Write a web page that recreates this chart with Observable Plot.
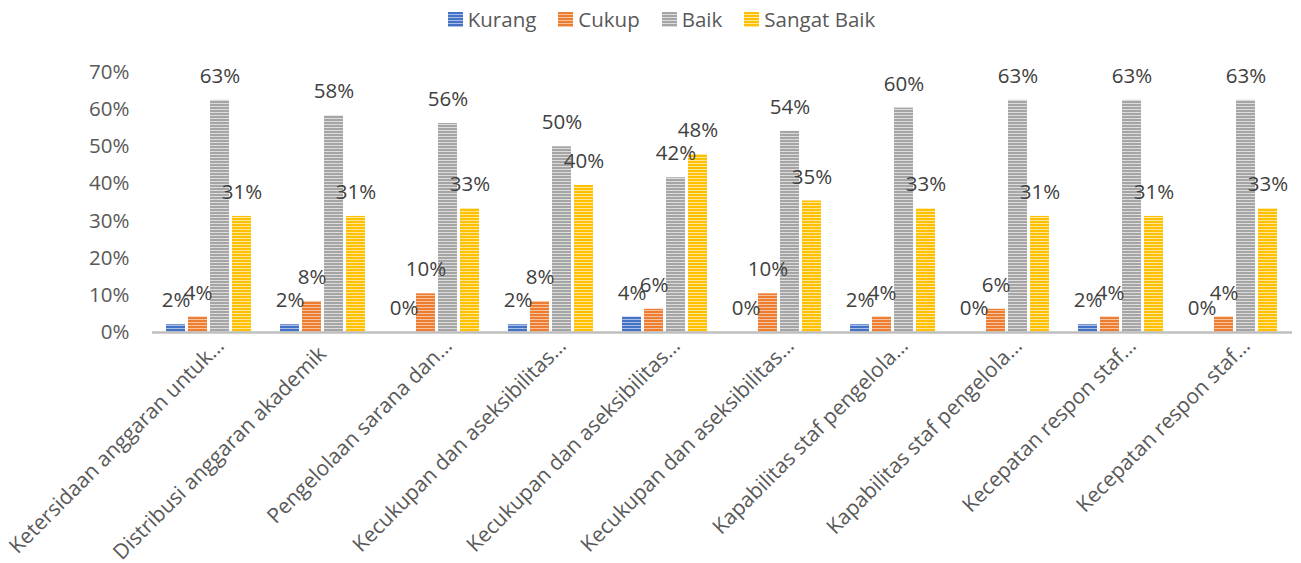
<!DOCTYPE html>
<html>
<head>
<meta charset="utf-8">
<script src="https://cdn.jsdelivr.net/npm/d3@7"></script>
<script src="https://cdn.jsdelivr.net/npm/@observablehq/plot@0.6"></script>
<style>
  body { margin: 0; background: #fff; font-family: "Open Sans", sans-serif; }
  #legend { height: 38px; display: flex; justify-content: center; align-items: center; gap: 22px;
            font-size: 20.5px; color: #595959; padding-left: 22px; box-sizing: border-box; width: 1301px; }
  #legend .item { display: flex; align-items: center; gap: 5px; }
  #defs { position: absolute; width: 0; height: 0; overflow: hidden; }
</style>
</head>
<body>
<svg id="defs" width="0" height="0"></svg>
<div id="legend"></div>
<div id="chart"></div>
<script>
// ---- data ----
const categories = [
  "Ketersidaan anggaran untuk…",
  "Distribusi anggaran akademik",
  "Pengelolaan sarana dan…",
  "Kecukupan dan aseksibilitas…",
  "Kecukupan dan aseksibilitas…",
  "Kecukupan dan aseksibilitas…",
  "Kapabilitas staf pengelola…",
  "Kapabilitas staf pengelola…",
  "Kecepatan respon staf…",
  "Kecepatan respon staf…"
];
const series = ["Kurang", "Cukup", "Baik", "Sangat Baik"];
const kurang     = [2.08, 2.08, 0,     2.08,  4.17,  0,     2.08,  0,     2.08,  0];
const cukup      = [4.17, 8.33, 10.42, 8.33,  6.25,  10.42, 4.17,  6.25,  4.17,  4.17];
const baik       = [62.5, 58.33, 56.25, 50.0, 41.67, 54.17, 60.42, 62.5,  62.5,  62.5];
const sangatBaik = [31.25, 31.25, 33.33, 39.58, 47.92, 35.42, 33.33, 31.25, 31.25, 33.33];
const yTicks = [0, 10, 20, 30, 40, 50, 60, 70];
const colors = ["#4472C4", "#ED7D31", "#A5A5A5", "#FFC000"];
const lightColors = ["#A9BEE6", "#F7C2A0", "#DCDCDC", "#FFE699"];

const seriesValues = [kurang, cukup, baik, sangatBaik];
const data = [];
categories.forEach((c, i) => {
  series.forEach((s, j) => data.push({cat: i, series: s, value: seriesValues[j][i]}));
});
const idx = d3.range(categories.length);
const truncated = idx.filter(i => categories[i].endsWith("…"));
const full = idx.filter(i => !categories[i].endsWith("…"));

// ---- stripe patterns ----
const defs = d3.select("#defs").append("defs");
const patIds = series.map((s, j) => "pat" + j);
series.forEach((s, j) => {
  const p = defs.append("pattern").attr("id", patIds[j])
    .attr("patternUnits", "userSpaceOnUse").attr("width", 4).attr("height", 3);
  p.append("rect").attr("width", 4).attr("height", 3).attr("fill", lightColors[j]);
  p.append("rect").attr("width", 4).attr("height", 2).attr("fill", colors[j]);
});
const patUrls = patIds.map(id => `url(#${id})`);

// ---- legend ----
const legend = d3.select("#legend");
series.forEach((s, j) => {
  const it = legend.append("div").attr("class", "item");
  const sw = it.append("svg").attr("width", 15).attr("height", 15);
  sw.append("rect").attr("width", 15).attr("height", 15).attr("fill", patUrls[j]);
  it.append("span").text(s);
});

// ---- chart ----
const fxAxisOpts = {anchor: "bottom", tickFormat: i => categories[i], tickRotate: -45, tickSize: 0,
  tickPadding: 10, fill: "#595959", fontSize: 21, label: null};
const chart = Plot.plot({
  width: 1301,
  height: 525,
  marginLeft: 150,
  marginRight: 8,
  marginTop: 34,
  marginBottom: 231,
  style: {fontFamily: "Open Sans", fontSize: "20px", background: "#fff"},
  fx: {domain: idx, padding: 0, label: null},
  x: {domain: series, paddingInner: 0.12, paddingOuter: 0.64, axis: null},
  y: {domain: [0, 70], label: null},
  color: {domain: series, range: patUrls},
  marks: [
    Plot.barY(data, {fx: "cat", x: "series", y: "value", fill: "series"}),
    Plot.ruleY([0], {stroke: "#BFBFBF", strokeWidth: 2.5}),
    Plot.text(data, {fx: "cat", x: "series", y: "value", text: d => Math.round(d.value) + "%",
      dy: -24, fill: "#404040", fontSize: 20.5}),
    Plot.axisY({ticks: yTicks, tickFormat: d => d + "%", tickSize: 0, tickPadding: 23,
      fill: "#595959", fontSize: 20.5, label: null}),
    Plot.axisFx({...fxAxisOpts, ticks: truncated, dx: 11}),
    Plot.axisFx({...fxAxisOpts, ticks: full, dx: -1, dy: 8})
  ]
});
document.getElementById("chart").appendChild(chart);
</script>
</body>
</html>
